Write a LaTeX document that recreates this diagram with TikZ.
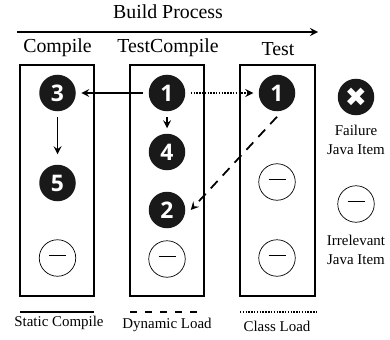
\documentclass[tikz,border=0pt]{standalone}
\usepackage{fontspec}
\setmainfont{Liberation Serif}
\newfontfamily\digitfont{Open Sans}
\newfontfamily\symbfont{DejaVu Sans}
\begin{document}
\begin{tikzpicture}
\tikzset{noir/.style={circle, fill=black!90, text=white, minimum size=0.73cm, inner sep=0pt, outer sep=0.11cm, font=\digitfont\bfseries\fontsize{13}{13}\selectfont}}
\tikzset{vide/.style={draw, circle, line width=0.4pt, minimum size=0.73cm, inner sep=0pt, outer sep=0.11cm}}
\tikzset{boite/.style={line width=1.5pt}}
\tikzset{titre/.style={font=\fontsize{11.3}{12}\selectfont}}
\tikzset{legende/.style={font=\fontsize{8.5}{10.5}\selectfont, align=center}}
\tikzset{fleche/.style={-stealth, line width=1pt}}
\tikzset{tirets/.style={dash pattern=on 0.2cm off 0.15cm}}
\tikzset{points/.style={dash pattern=on 0.8pt off 0.8pt}}
\useasboundingbox (0, 0) rectangle (7.8, 6.78);
\node[titre] (TB) at (3.36, 6.54) {Build Process};
\coordinate (P1) at (0.34, 6.14);
\coordinate (P2) at (6.36, 6.14);
\draw[fleche] (P1) -- (P2);
\node[titre] (TC) at (1.15, 5.82) {Compile};
\node[titre] (TT) at (3.36, 5.82) {TestCompile};
\node[titre] (TE) at (5.56, 5.80) {Test};
\draw[boite] (0.40, 0.86) rectangle (1.88, 5.48);
\draw[boite] (2.60, 0.86) rectangle (4.08, 5.48);
\draw[boite] (4.80, 0.86) rectangle (6.30, 5.48);
\node[noir] (C3) at (1.15, 4.92) {3};
\node[noir] (C5) at (1.15, 3.12) {5};
\node[vide] (C0) at (1.15, 1.62) {\rule[0.6ex]{0.34cm}{0.4pt}};
\node[noir] (T1) at (3.34, 4.92) {1};
\node[noir] (T4) at (3.34, 3.74) {4};
\node[noir] (T2) at (3.34, 2.58) {2};
\node[vide] (T0) at (3.34, 1.60) {\rule[0.6ex]{0.34cm}{0.4pt}};
\node[noir] (E1) at (5.54, 4.92) {1};
\node[vide] (E2) at (5.54, 3.14) {\rule[0.6ex]{0.34cm}{0.4pt}};
\node[vide] (E0) at (5.54, 1.62) {\rule[0.6ex]{0.34cm}{0.4pt}};
\draw[fleche] (T1) -- (C3);
\draw[fleche, shorten >=0.1cm] (C3) -- (C5);
\draw[fleche] (T1) -- (T4);
\draw[fleche, points] (T1) -- (E1);
\draw[fleche, tirets] (E1.south) -- (T2.east);
\node[noir] (F) at (7.12, 4.84) {\symbfont\fontsize{15}{15}\selectfont ✖};
\node[legende] (FL) at (7.12, 3.98) {Failure\\Java Item};
\node[vide] (I) at (7.12, 2.70) {\rule[0.6ex]{0.34cm}{0.4pt}};
\node[legende] (IL) at (7.12, 1.78) {Irrelevant\\Java Item};
\coordinate (L1) at (0.40, 0.54);
\coordinate (L2) at (1.88, 0.54);
\coordinate (L3) at (2.60, 0.54);
\coordinate (L4) at (4.10, 0.54);
\coordinate (L5) at (4.80, 0.54);
\coordinate (L6) at (6.36, 0.54);
\draw[line width=1pt] (L1) -- (L2);
\draw[line width=1pt, dash pattern=on 0.14cm off 0.16cm] (L3) -- (L4);
\draw[line width=1pt, points] (L5) -- (L6);
\node[legende] (LS) at (1.18, 0.32) {Static Compile};
\node[legende] (LD) at (3.34, 0.28) {Dynamic Load};
\node[legende] (LC) at (5.54, 0.26) {Class Load};
\end{tikzpicture}
\end{document}
